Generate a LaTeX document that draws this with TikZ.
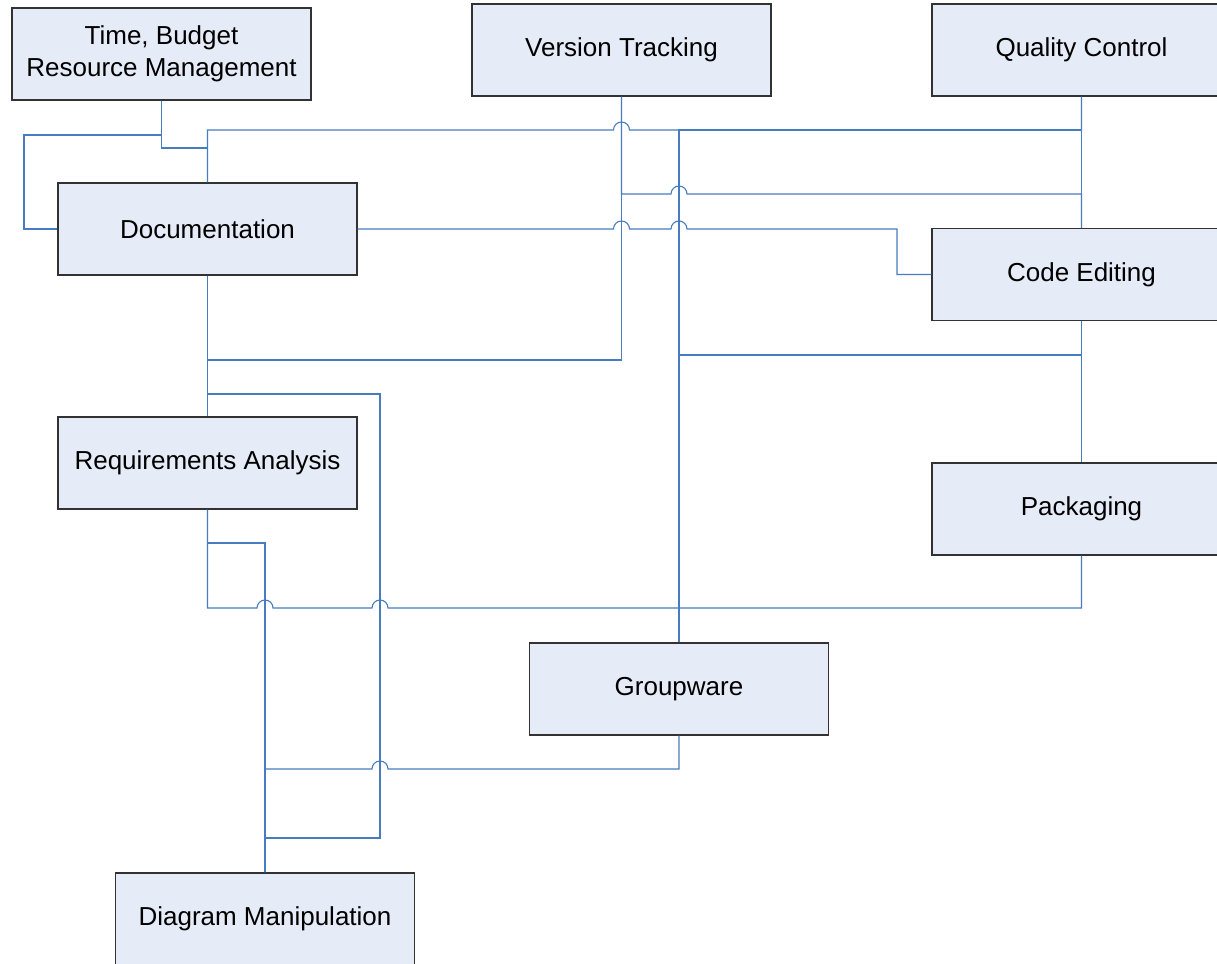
\documentclass[tikz,border=0pt]{standalone}
\usepackage{fontspec}
\setmainfont{Liberation Sans}
\usetikzlibrary{calc}
\usepackage{xcolor}
\definecolor{linkblue}{RGB}{72,124,192}
\definecolor{boxfill}{RGB}{230,236,247}
\definecolor{boxline}{RGB}{50,50,50}

% line hop over a crossing vertical line
\newcommand{\hopR}[1]{-- ($(#1)+(-8,0)$) arc[start angle=180, end angle=0, radius=8pt]}
\newcommand{\hopL}[1]{-- ($(#1)+(8,0)$) arc[start angle=0, end angle=180, radius=8pt]}

\tikzset{
  task/.style={draw=boxline, fill=boxfill, line width=1.2pt, minimum width=299pt,
    minimum height=92pt, inner sep=0pt, align=center,
    font=\fontsize{26}{32}\selectfont},
  link/.style={draw=linkblue, line width=1.1pt}
}

\begin{document}
\begin{tikzpicture}[x=1pt, y=-1pt]
  \path[use as bounding box, clip] (0,0) rectangle (1217,963);
  \fill[white] (0,0) rectangle (1217,963);

  % boxes
  \node[task] (tbr) at (161.5,54) {Time, Budget\\Resource Management};
  \node[task] (vt) at (621.5,50) {Version Tracking};
  \node[task] (qc) at (1081.5,50) {Quality Control};
  \node[task] (doc) at (207.5,229) {Documentation};
  \node[task] (ce) at (1081.5,274.5) {Code Editing};
  \node[task] (ra) at (207.5,463) {Requirements Analysis};
  \node[task] (pack) at (1081.5,509) {Packaging};
  \node[task] (gw) at (679,689) {Groupware};
  \node[task] (dm) at (265,919) {Diagram Manipulation};
  \coordinate (dmlane) at (380,394);

  % connectors
  \draw[link] (tbr.south) -- (tbr.south |- 0,135) -- (24,135) |- (doc.west);
  \draw[link] (tbr.south) -- (tbr.south |- 0,148) -| (doc.north);
  \draw[link] (doc.north) -- (doc.north |- 0,130) \hopR{vt.south |- 0,130} -| (qc.south);
  \draw[link] (gw.north) -- (gw.north |- 0,130) -| (qc.south);
  \draw[link] (qc.south) -- (ce.north);
  \draw[link] (vt.south) -- (vt.south |- 0,194) \hopR{gw.north |- 0,194} -| (ce.north);
  \draw[link] (doc.east) \hopR{vt.south |- doc.east} \hopR{gw.north |- doc.east}
    -- (897,229) |- (ce.west);
  \draw[link] (vt.south) -- (vt.south |- 0,360) -| (doc.south);
  \draw[link] (doc.south) -- (ra.north);
  \draw[link] (doc.south) -- (doc.south |- dmlane) -- (dmlane) -- (dmlane |- 0,838) -| (dm.north);
  \draw[link] (gw.north) -- (gw.north |- 0,355) -| (ce.south);
  \draw[link] (ce.south) -- (pack.north);
  \draw[link] (ra.south) -- (ra.south |- 0,543) -| (dm.north);
  \draw[link] (ra.south) -- (ra.south |- 0,608) \hopR{dm.north |- 0,608}
    \hopR{dmlane |- 0,608} -| (pack.south);
  \draw[link] (gw.south) -- (gw.south |- 0,769) \hopL{dmlane |- 0,769} -| (dm.north);
\end{tikzpicture}
\end{document}
